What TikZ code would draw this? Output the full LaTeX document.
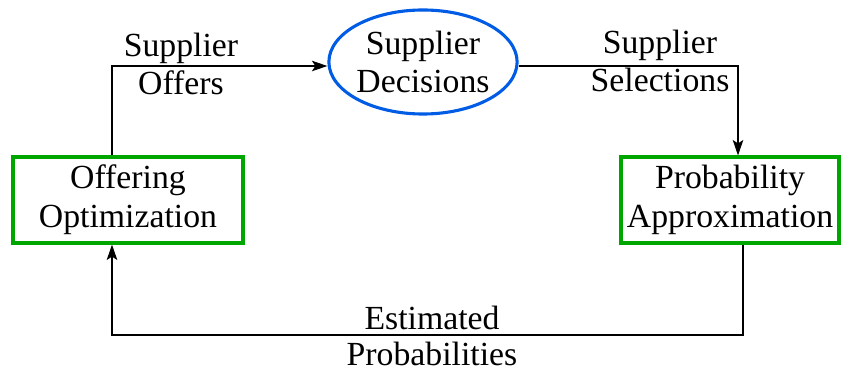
\documentclass[tikz,border=0pt]{standalone}
\usepackage{fontspec}
\setmainfont{Liberation Serif}
\usetikzlibrary{shapes.geometric,arrows.meta}

\begin{document}
\begin{tikzpicture}[
    x=0.025cm, y=-0.025cm,
    >={Stealth[length=11pt,width=7.5pt,inset=2.5pt]},
    font=\fontsize{24}{27.5}\selectfont,
    stage/.style={
        draw=green!65!black,
        line width=2.2pt,
        minimum height=2.15cm,
        align=center,
        inner sep=0pt
    },
    decide/.style={ellipse, draw=blue!60!cyan!90!black, line width=2.2pt,
        minimum width=4.5cm, minimum height=2.6cm, align=center, inner sep=0pt},
    flow/.style={->, line width=0.8pt},
    lbl/.style={align=center}
]
\useasboundingbox (0,0) rectangle (841,373);

% blocs
\node[stage, minimum width=5.75cm] (oo) at (128,200) {Offering\\Optimization};
\node[stage, minimum width=5.45cm] (pa) at (730,200) {Probability\\Approximation};
\node[decide] (sd) at (423,62) {Supplier\\Decisions};

% flèches
\coordinate (bas) at (430,335);
\draw[flow] ([xshift=-0.4cm]oo.north) |- ([yshift=-0.1cm]sd.west);
\draw[flow] ([yshift=-0.1cm]sd.east) -| ([xshift=0.2cm]pa.north);
\draw[flow] ([xshift=0.325cm]pa.south) |- (bas) -| ([xshift=-0.4cm]oo.south);

% étiquettes
\node[lbl] (so) at (181,64) {Supplier\\Offers};
\node[lbl] (ss) at (660,61) {Supplier\\Selections};
\node[lbl] (ep) at (432,318) {Estimated};
\node[lbl] (pr) at (432,354) {Probabilities};

\end{tikzpicture}
\end{document}
